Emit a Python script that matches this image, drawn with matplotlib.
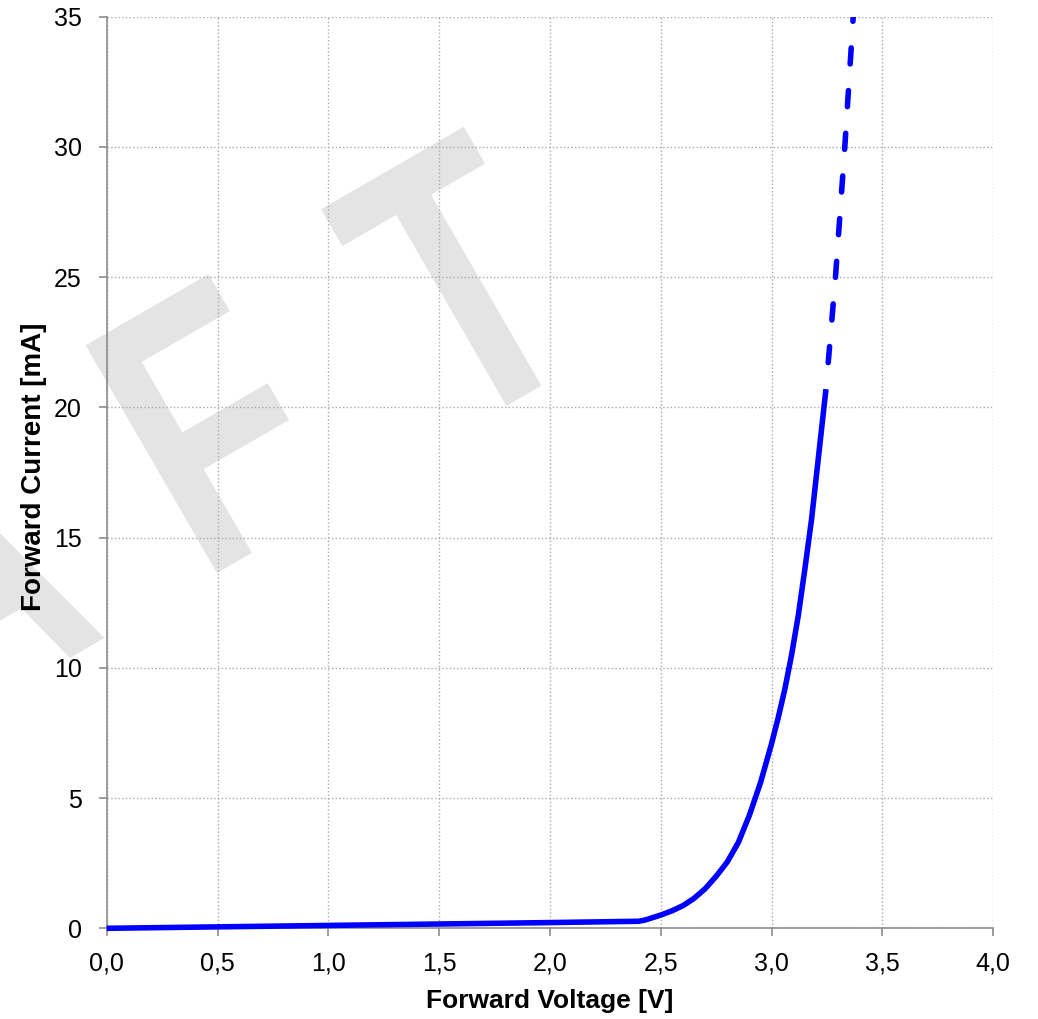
import matplotlib
matplotlib.use('Agg')
import matplotlib.pyplot as plt
from matplotlib.font_manager import FontProperties
from matplotlib.patches import PathPatch
from matplotlib.textpath import TextPath
from matplotlib.transforms import Affine2D

plt.rcParams['font.family'] = ['Liberation Sans', 'DejaVu Sans']

# forward characteristic, measured part (solid)
voltage = [0.0, 1.0, 2.0, 2.40, 2.43, 2.46, 2.50, 2.55, 2.60, 2.65, 2.70,
           2.75, 2.80, 2.85, 2.90, 2.95, 3.00, 3.03, 3.06, 3.09, 3.12,
           3.15, 3.18, 3.21, 3.245]
current = [0.0, 0.11, 0.22, 0.27, 0.32, 0.40, 0.51, 0.67, 0.87, 1.15, 1.52,
           2.0, 2.55, 3.3, 4.35, 5.6, 7.1, 8.1, 9.2, 10.5, 12.0,
           13.8, 15.7, 18.0, 20.7]

# extrapolated part (dashed)
voltage_ext = [3.245, 3.288, 3.330, 3.368]
current_ext = [20.7, 25.0, 30.0, 35.0]

x_ticks = [0.0, 0.5, 1.0, 1.5, 2.0, 2.5, 3.0, 3.5, 4.0]
x_labels = ['0,0', '0,5', '1,0', '1,5', '2,0', '2,5', '3,0', '3,5', '4,0']
y_ticks = [0, 5, 10, 15, 20, 25, 30, 35]

watermark = 'DRAFT'

W, H = 1038, 1019
fig = plt.figure(figsize=(W / 100, H / 100), dpi=100)

# watermark, drawn in pixels behind the axes
wm_prop = FontProperties(family='Liberation Sans', weight='bold')
paths = [TextPath((0, 0), c, size=1, prop=wm_prop) for c in watermark]
bbF = paths[watermark.index('F')].get_extents()
sy = 263 / bbF.height
sx = 142 / bbF.width
gap = 130
origin = (217, H - 573)   # lower-left of the F
widths = [p.get_extents().width * sx for p in paths]
cur = -sum(w + gap for w in widths[:watermark.index('F')])
for p, w in zip(paths, widths):
    bb = p.get_extents()
    tr = (Affine2D().translate(-bb.x0, 0).scale(sx, sy)
          .translate(cur, 0).rotate_deg(30).translate(*origin))
    fig.add_artist(PathPatch(p, transform=tr, facecolor='#e4e4e4',
                             edgecolor='none', zorder=-1))
    cur += w + gap

ax = fig.add_axes([106.7 / W, 90.7 / H, 886.6 / W, 911.6 / H])
ax.patch.set_visible(False)

ax.plot(voltage, current, color='#0000ff', lw=4.0, solid_capstyle='butt',
        solid_joinstyle='round', clip_on=False, zorder=3)
ax.plot(voltage_ext, current_ext, color='#0000ff', lw=4.0,
        linestyle=(2.9, (2.9, 4.8)), dash_capstyle='round', zorder=3)

ax.set_xlim(0, 4)
ax.set_ylim(0, 35)
ax.set_xticks(x_ticks)
ax.set_xticklabels(x_labels)
ax.set_yticks(y_ticks)

for s in ['top', 'right']:
    ax.spines[s].set_visible(False)
for s in ['left', 'bottom']:
    ax.spines[s].set_color('#8c8c8c')
    ax.spines[s].set_linewidth(1.2)

ax.grid(True, color='#aaaaaa', linestyle=':', linewidth=1.0)
ax.tick_params(direction='out', length=5.8, width=1.2, color='#8c8c8c',
               labelsize=18, labelcolor='black')
ax.tick_params(axis='x', pad=11)
ax.tick_params(axis='y', pad=12)

ax.set_xlabel('Forward Voltage [V]', fontsize=19, fontweight='bold')
ax.set_ylabel('Forward Current [mA]', fontsize=20, fontweight='bold')
ax.xaxis.set_label_coords(0.5, -0.0664)
ax.yaxis.set_label_coords(-0.067, 0.506)

fig.savefig('out.png', dpi=100)
